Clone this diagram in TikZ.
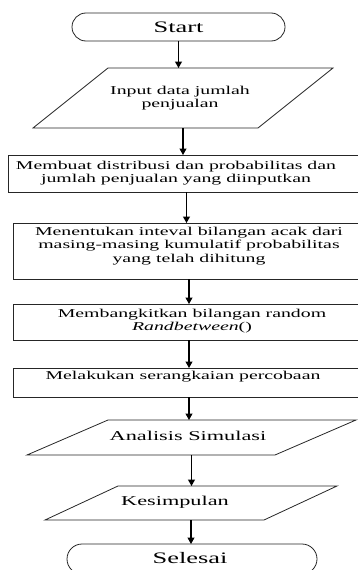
\documentclass[tikz,border=0pt]{standalone}
\usepackage{fontspec}
\setmainfont{Liberation Serif}[FakeStretch=1.65]
\usetikzlibrary{arrows.meta}
\begin{document}
\begin{tikzpicture}[x=1pt,y=-1pt,
  shp/.style={draw=black!85, line width=0.8pt, inner sep=0pt, outer sep=0pt},
  ghost/.style={inner sep=0pt, outer sep=0pt},
  pgram/.style={draw=black!85, line width=0.8pt},
  txt/.style={align=center, inner sep=0pt, font=\fontsize{12}{13.5}\selectfont},
  bigtxt/.style={align=center, inner sep=0pt, font=\fontsize{13.5}{15}\selectfont},
  termtxt/.style={align=center, inner sep=0pt, font=\fontsize{16}{18}\selectfont},
  arr/.style={line width=1.1pt, -{Triangle[length=6.5pt,width=7pt]}}]
\useasboundingbox (0,0) rectangle (358,570);
\clip (0,0) rectangle (358,570);

% shapes
\node[shp, rounded corners=14pt, minimum width=213pt, minimum height=28pt] (st) at (178.5,27) {};
\node[ghost, minimum width=300pt, minimum height=60pt] (in) at (183,98) {};
\draw[pgram] ([xshift=75pt]in.north west) -- (in.north east) -- ([xshift=-75pt]in.south east) -- (in.south west) -- cycle;
\node[shp, minimum width=357pt, minimum height=37pt] (b1) at (186.5,173.5) {};
\node[shp, minimum width=352pt, minimum height=56pt] (b2) at (189,251) {};
\node[shp, minimum width=352pt, minimum height=36pt] (b3) at (189,322) {};
\node[shp, minimum width=352pt, minimum height=29pt] (b4) at (189,382.5) {};
\node[ghost, minimum width=329pt, minimum height=35pt] (an) at (191.5,437.5) {};
\draw[pgram] ([xshift=81pt]an.north west) -- (an.north east) -- ([xshift=-81pt]an.south east) -- (an.south west) -- cycle;
\node[ghost, minimum width=292pt, minimum height=34pt] (ke) at (191,503) {};
\draw[pgram] ([xshift=73pt]ke.north west) -- (ke.north east) -- ([xshift=-73pt]ke.south east) -- (ke.south west) -- cycle;
\node[shp, rounded corners=15pt, minimum width=250pt, minimum height=30pt] (se) at (192,559) {};

% texts
\node[termtxt] (t0) at (178.5,27) {Start};
\node[txt] (t1) at (180,98) {Input data jumlah\\penjualan};
\node[txt] (t2) at (176,173) {Membuat distribusi dan probabilitas dan\\jumlah penjualan yang diinputkan};
\node[txt] (t3) at (189,246) {Menentukan inteval bilangan acak dari\\masing-masing kumulatif probabilitas\\yang telah dihitung};
\node[txt] (t4) at (192,321) {Membangkitkan bilangan random\\\textit{Randbetween}()};
\node[txt] (t5) at (183,377) {Melakukan serangkaian percobaan};
\node[bigtxt] (t6) at (188,436) {Analisis Simulasi};
\node[bigtxt] (t7) at (175,502) {Kesimpulan};
\node[termtxt] (t8) at (190,558) {Selesai};

% connectors
\draw[arr] (st.south) -- (st.south |- in.north);
\draw[arr] (in.south) -- (in.south |- b1.north);
\draw[arr] (b1.south) -- (b1.south |- b2.north);
\draw[arr] (b2.south) -- (b2.south |- b3.north);
\draw[arr] (b3.south) -- (b3.south |- b4.north);
\draw[arr] (b4.south) -- (b4.south |- an.north);
\draw[arr] (an.south) -- (an.south |- ke.north);
\draw[arr] (ke.south) -- (ke.south |- se.north);
\end{tikzpicture}
\end{document}
